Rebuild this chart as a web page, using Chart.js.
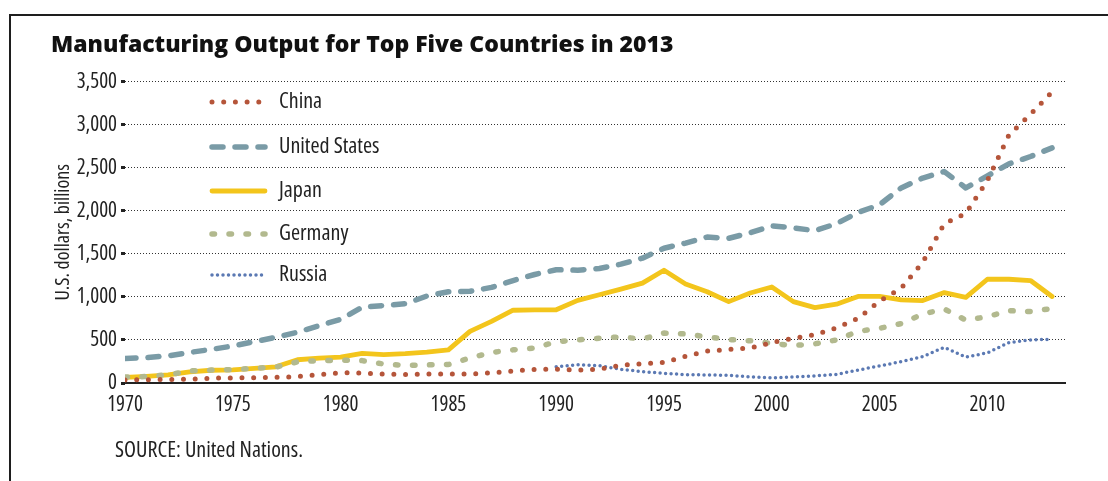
<!DOCTYPE html>
<html>
<head>
<meta charset="utf-8">
<script src="https://cdn.jsdelivr.net/npm/chart.js@4.4.1/dist/chart.umd.min.js"></script>
<style>
  html, body { margin: 0; padding: 0; background: #fff; overflow: hidden; }
  #wrap { position: relative; width: 1108px; height: 481px; }
  #mfgChart { display: block; }
  #frame { position: absolute; left: 9px; top: 14px; width: 1200px; height: 600px;
           border-top: 2px solid #1e1e1e; border-left: 2px solid #1e1e1e; pointer-events: none; }
  #source { position: absolute; left: 115px; top: 433px; color: #222;
            font-family: "Open Sans", sans-serif; font-size: 22px; font-stretch: 75%; }
</style>
</head>
<body>
<div id="wrap">
  <canvas id="mfgChart"></canvas>
  <div id="frame"></div>
  <div id="source">SOURCE: United Nations.</div>
</div>
<script>
const years = [1970, 1971, 1972, 1973, 1974, 1975, 1976, 1977, 1978, 1979,
               1980, 1981, 1982, 1983, 1984, 1985, 1986, 1987, 1988, 1989,
               1990, 1991, 1992, 1993, 1994, 1995, 1996, 1997, 1998, 1999,
               2000, 2001, 2002, 2003, 2004, 2005, 2006, 2007, 2008, 2009,
               2010, 2011, 2012, 2013];

// U.S. dollars, billions
const china = [35, 38, 40, 45, 55, 60, 62, 65, 75, 95,
               120, 115, 105, 100, 105, 105, 105, 118, 140, 158,
               160, 150, 160, 205, 225, 240, 310, 370, 390, 405,
               470, 520, 560, 640, 750, 950, 1100, 1400, 1850, 1970,
               2350, 2880, 3120, 3380];
const unitedStates = [285, 295, 315, 355, 390, 430, 480, 530, 590, 665,
                      740, 880, 900, 920, 1010, 1060, 1065, 1110, 1190, 1260,
                      1315, 1310, 1330, 1380, 1450, 1565, 1625, 1695, 1680, 1745,
                      1825, 1800, 1770, 1850, 1980, 2070, 2265, 2380, 2455, 2265,
                      2405, 2545, 2630, 2730];
const japan = [65, 78, 95, 130, 148, 152, 170, 188, 270, 290,
               300, 345, 330, 340, 358, 385, 600, 715, 845, 850,
               850, 960, 1025, 1090, 1160, 1310, 1150, 1060, 945, 1045,
               1115, 945, 875, 915, 1005, 1005, 965, 957, 1050, 995,
               1205, 1205, 1190, 1005];
const germany = [70, 75, 95, 140, 150, 155, 170, 185, 245, 260,
                 265, 260, 220, 205, 210, 215, 290, 355, 385, 405,
                 480, 500, 520, 535, 510, 580, 570, 535, 505, 490,
                 460, 435, 455, 500, 600, 635, 690, 800, 860, 730,
                 770, 840, 830, 865];
const russia = [null, null, null, null, null, null, null, null, null, null,
                null, null, null, null, null, null, null, null, null, null,
                190, 213, 201, 159, 132, 112, 97, 93, 89, 72,
                60, 70, 82, 100, 150, 198, 248, 306, 415, 300,
                350, 470, 500, 508];

const xTicks = [1970, 1975, 1980, 1985, 1990, 1995, 2000, 2005, 2010];
const yTicks = [0, 500, 1000, 1500, 2000, 2500, 3000, 3500];

// condensed Open Sans (variable width axis); Chart.js passes "weight" straight into ctx.font
const condFamily = '"Open Sans", sans-serif';
const cond = size => ({ family: condFamily, size, weight: 'condensed' });

const toPoints = vals => years
  .map((yr, i) => ({ x: yr, y: vals[i] }))
  .filter(p => p.y !== null);

const line = (label, vals, color, width, dash, order) => ({
  label,
  data: toPoints(vals),
  borderColor: color,
  borderWidth: width,
  borderDash: dash,
  borderCapStyle: 'round',
  borderJoinStyle: 'round',
  pointRadius: 0,
  fill: false,
  tension: 0,
  order
});

// legend drawn inside the plot, one row per series
const legendRows = [102, 147, 191, 234, 275];
const insideLegend = {
  id: 'insideLegend',
  afterDatasetsDraw(chart) {
    const ctx = chart.ctx;
    chart.data.datasets.forEach((ds, i) => {
      const y = legendRows[i];
      ctx.save();
      ctx.strokeStyle = ds.borderColor;
      ctx.lineWidth = ds.borderWidth;
      ctx.lineCap = 'round';
      ctx.setLineDash(ds.borderDash || []);
      ctx.beginPath();
      ctx.moveTo(212, y);
      ctx.lineTo(265, y);
      ctx.stroke();
      ctx.setLineDash([]);
      ctx.fillStyle = '#222';
      ctx.font = 'condensed 22px ' + condFamily;
      ctx.textBaseline = 'middle';
      ctx.fillText(ds.label, 279, y);
      ctx.restore();
    });
  }
};

const ctx = document.getElementById('mfgChart').getContext('2d');
const mfgChart = new Chart(ctx, {
  type: 'line',
  data: {
    datasets: [
      line('China', china, '#b5553a', 5, [0, 11.7], 0),
      line('United States', unitedStates, '#7a9ba6', 5.5, [11, 12], 1),
      line('Japan', japan, '#f3c51c', 4.8, [], 3),
      line('Germany', germany, '#b2b98e', 5.5, [2.5, 14.5], 2),
      line('Russia', russia, '#5b79b3', 3.5, [0, 5.5], 4)
    ]
  },
  options: {
    responsive: true,
    maintainAspectRatio: false,
    animation: false,
    layout: { padding: { left: 51, right: 43, top: 0, bottom: 58 } },
    plugins: {
      legend: { display: false },
      tooltip: { enabled: false },
      title: {
        display: true,
        text: 'Manufacturing Output for Top Five Countries in 2013',
        align: 'start',
        color: '#111',
        font: { family: '"Open Sans", sans-serif', size: 23, weight: '800' },
        padding: { top: 32, bottom: 22 }
      }
    },
    scales: {
      x: {
        type: 'linear',
        min: 1970,
        max: 2013.6,
        afterBuildTicks: axis => { axis.ticks = xTicks.map(v => ({ value: v })); },
        afterFit: s => { s.height = 40; },
        ticks: {
          color: '#222',
          font: cond(21),
          padding: 9,
          maxRotation: 0,
          callback: v => String(v)
        },
        grid: { display: false, drawTicks: false },
        border: { display: true, color: '#222', width: 2 }
      },
      y: {
        min: 0,
        max: 3500,
        afterBuildTicks: axis => { axis.ticks = yTicks.map(v => ({ value: v })); },
        afterFit: s => { s.width = 74; },
        ticks: {
          color: '#222',
          font: cond(21),
          padding: 4,
          callback: v => v.toLocaleString('en-US')
        },
        grid: { color: '#333', lineWidth: 1, tickLength: 4, tickWidth: 3, tickColor: '#222' },
        border: { display: false, dash: [1, 2] },
        title: {
          display: true,
          text: 'U.S. dollars, billions',
          color: '#222',
          font: cond(20),
          padding: 0
        }
      }
    }
  },
  plugins: [insideLegend]
});
</script>
</body>
</html>
